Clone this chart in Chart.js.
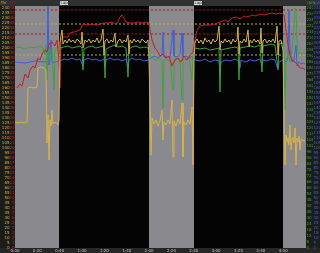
<!DOCTYPE html>
<html><head><meta charset="utf-8">
<style>html,body{margin:0;padding:0;background:#1c1c1c;overflow:hidden}canvas{display:block}</style>
<script src="https://cdn.jsdelivr.net/npm/chart.js@4.4.1/dist/chart.umd.min.js"></script>
</head><body>
<canvas id="c" width="320" height="253"></canvas>
<script>
// ---- data (x = elapsed distance units) ----
const xTickLabels = ["0:00","0:20","0:40","1:00","1:20","1:40","2:00","2:20","2:40","3:00","3:20","3:40","4:00"];
const xTickStep = 22.35;
const shadedRanges = [[0,44],[134,179],[268,291]];
const lapLabels = [["Lap1",45],["Lap2",179]];
const yellowRefs = [224,193];
const redRefs = [47.6,42.8];

const yellowTrace = [[0,126],[3,125],[6,126],[9,125],[12,126],[13,160],[16,161],[19,160],[22,161],[23,180],[26,181],[29,180],[31,178],[32,105],[33,133],[34,88],[35,128],[36,122],[37,138],[38,124],[40,126],[42,125],[43,123],[44,128],
[45,206],[47,218],[48,204],[50,208],[52,205],[54,209],[56,206],[58,208],[60,205],[62,209],[64,207],[66,204],[67,216],[68,200],[70,208],[72,206],[74,209],[76,205],[78,208],[80,206],[82,210],[84,205],[86,208],[88,219],[89,193],[90,207],[92,209],[94,205],[96,208],[98,206],[100,215],[101,201],[103,207],[105,209],[107,205],[109,208],[111,206],[113,213],[114,194],[115,208],[117,205],[119,209],[121,206],[123,208],[125,205],[127,209],[129,207],[131,205],[133,208],[134,188],
[135,148],[136,93],[137,130],[139,124],[141,128],[143,122],[145,127],[147,138],[148,108],[149,126],[151,123],[153,128],[155,124],[157,148],[158,91],[159,127],[161,122],[163,129],[165,124],[167,145],[168,91],[169,126],[171,123],[173,128],[175,124],[177,141],[178,83],[179,188],
[180,206],[182,209],[184,205],[186,208],[188,204],[190,210],[192,206],[194,208],[196,204],[198,209],[200,206],[202,208],[204,222],[205,198],[206,207],[208,205],[210,209],[212,206],[214,208],[216,204],[218,209],[220,206],[222,208],[223,221],[224,194],[225,207],[227,205],[229,209],[231,206],[233,218],[234,201],[235,208],[237,205],[239,209],[241,206],[243,208],[245,204],[246,220],[247,195],[248,207],[250,209],[252,205],[254,208],[256,206],[258,209],[260,205],[262,222],[263,193],[264,207],[266,208],[268,198],
[269,138],[270,83],[271,113],[272,106],[273,110],[274,103],[275,123],[276,98],[277,108],[278,111],[279,105],[280,120],[281,83],[282,110],[283,106],[284,112],[285,98],[286,108],[287,109],[288,107],[289,108],[290,107]];

const redTrace = [[2,32],[5,32.8],[7,32.4],[10,34.8],[13,34],[15,35.6],[18,36.4],[20,36],[23,38],[25,37.6],[27,38.8],[30,39.6],[32,39.2],[34,40.8],[37,41.2],[40,40.4],[42,41.6],[44,37.6],[45,32],[46,41.6],
[48,42.2],[53,42.2],[55,43],[59,43.2],[62,43.4],[65,43.6],[67,44.4],[69,44.8],[73,44.6],[77,44.8],[81,44.6],[85,44.8],[89,45],[93,45],[97,45.2],[101,44.8],[103,45.2],[105,46.2],[107,46.6],[109,46],[111,45.2],[115,45],[119,45],[123,45.2],[127,45],[131,45.2],[134,45],
[135,43.6],[137,41.6],[140,40],[143,39.2],[145,38.4],[148,38.8],[151,38],[154,38.4],[157,36.4],[160,37.6],[163,38],[166,37.2],[169,38.4],[172,37.6],[175,38.6],[178,39.2],[180,41.6],[182,43.6],[185,44.4],[190,44.6],[195,44.6],
[200,44.8],[205,45.2],[210,45.6],[213,45.2],[217,46],[221,46.2],[225,45.8],[229,46.4],[233,46.2],[237,46.6],[241,46.4],[245,46.8],[249,46.6],[253,46.8],[257,47],[261,46.8],[265,47],[268,46.8],
[269,46.6],[271,43.6],[273,40.6],[275,38.6],[277,37.6],[280,37.2],[283,36.6],[285,36],[288,36],[290,35.6]];

const greenTrace = [[0,200],[5,201],[10,199],[15,201],[20,200],[25,202],[28,200],[30,193],[31,203],[32,168],[33,198],[35,188],[37,200],[39,158],[40,198],[42,201],[44,200],
[45,200],[49,201],[53,202],[57,200],[61,201],[65,202],[67,200],[68,178],[69,199],[73,201],[77,202],[81,200],[85,201],[89,202],[90,170],[91,199],[95,201],[99,203],[103,201],[107,202],[111,200],[113,171],[114,199],[117,201],[121,202],[125,200],[129,201],[133,200],
[134,200],[135,192],[138,190],[141,188],[144,190],[147,187],[148,140],[149,188],[152,189],[155,186],[158,158],[159,188],[162,190],[165,187],[167,148],[168,189],[171,188],[174,190],[177,168],[178,193],[180,200],
[185,199],[190,200],[195,198],[200,199],[204,200],[205,156],[206,198],[210,199],[215,200],[220,201],[223,200],[224,168],[225,200],[230,201],[235,202],[240,201],[245,203],[247,176],[248,202],[252,203],[256,204],[260,203],[263,180],[264,204],[268,205],
[269,203],[270,138],[271,188],[273,193],[275,186],[277,198],[279,218],[280,240],[281,236],[282,208],[283,193],[285,196],[287,194],[289,195],[290,194]];

const blueTrace = [[0,186],[10,185],[20,187],[30,186],[32,188],[33,242],[34,183],[36,208],[37,185],[40,186],[44,187],
[45,187],[49,189],[53,188],[57,190],[61,188],[65,189],[68,182],[69,188],[73,190],[77,188],[81,189],[85,187],[89,189],[90,181],[91,188],[95,190],[99,188],[103,189],[107,187],[111,189],[113,180],[114,188],[117,190],[121,188],[125,189],[129,187],[133,188],
[137,191],[140,192],[143,190],[147,193],[148,216],[149,191],[152,192],[155,190],[158,218],[159,192],[162,191],[165,193],[167,215],[168,191],[171,192],[174,190],[177,192],[179,188],
[180,188],[185,187],[190,189],[195,186],[200,188],[204,187],[205,178],[206,186],[210,188],[215,187],[220,189],[224,187],[225,180],[226,188],[230,186],[235,188],[240,187],[245,189],[247,182],[248,188],[252,187],[256,189],[260,188],[263,178],[264,186],[268,188],
[269,188],[271,186],[273,190],[274,238],[275,198],[277,186],[279,188],[281,203],[282,182],[284,186],[286,184],[288,185],[290,184]];

// ---- styling ----
const C = {yellow:'#d6b24c', red:'#cc1c1c', green:'#3ea23e', blue:'#3f5fd8'};
const toXY = a => a.map(p => ({x:p[0], y:p[1]}));
const hline = (v) => [{x:0,y:v},{x:291,y:v}];
const FONT = {family:'DejaVu Sans', size:4};

const bgPlugin = {
  id:'bg',
  beforeDraw(chart){
    const {ctx, chartArea:a, scales} = chart;
    const x = scales.x;
    ctx.save();
    ctx.fillStyle='#1b1d1b'; ctx.fillRect(0,0,chart.width,chart.height);
    ctx.fillStyle='#303030'; ctx.fillRect(0,0,chart.width,a.top);
    ctx.fillStyle='#262626'; ctx.fillRect(0,a.bottom,chart.width,chart.height-a.bottom);
    ctx.fillStyle='#040404'; ctx.fillRect(a.left,a.top,a.right-a.left,a.bottom-a.top);
    ctx.fillStyle='#8a8a8e';
    shadedRanges.forEach(([s,e])=>{
      const x0=x.getPixelForValue(s), x1=x.getPixelForValue(e);
      ctx.fillRect(x0,a.top,x1-x0,a.bottom-a.top);
    });
    ctx.restore();
  },
  afterDraw(chart){
    const {ctx, chartArea:a, scales} = chart;
    const x = scales.x;
    ctx.save();
    ctx.font = '4px "DejaVu Sans"';
    ctx.textBaseline='middle';
    lapLabels.forEach(([t,v])=>{
      const px = x.getPixelForValue(v);
      ctx.fillStyle='#d8d8d8'; ctx.fillRect(px,1,8,4);
      ctx.fillStyle='#222'; ctx.fillText(t,px+0.5,3);
    });
    ctx.fillStyle=C.yellow; ctx.fillText('thr',1,3);
    ctx.fillStyle=C.red; ctx.fillText('°C',10,3);
    ctx.fillStyle=C.green; ctx.fillText('rpm',307,3);
    ctx.fillStyle=C.blue; ctx.fillText('kph',313,3);
    ctx.restore();
  }
};

const yAxis = (pos, weight, width, color, step) => ({
  position: pos, weight: weight, min: 0,
  grid:{display:false, drawTicks:false}, border:{display:false},
  ticks:{color:color, font:FONT, stepSize:step, autoSkip:false, includeBounds:false, padding:0.5},
  afterFit(s){ s.width = width; }
});

const line = (data, color, axis, extra) => Object.assign({
  data: data, borderColor: color, borderWidth: 1, pointRadius: 0, tension: 0,
  yAxisID: axis, fill:false
}, extra||{});

new Chart(document.getElementById('c'), {
  type:'line',
  data:{datasets:[
    line(toXY(yellowTrace), C.yellow, 'yY'),
    line(toXY(redTrace), C.red, 'yR'),
    line(toXY(greenTrace), C.green, 'yG'),
    line(toXY(blueTrace), C.blue, 'yB'),
    ...yellowRefs.map(v => line(hline(v), '#c8a840', 'yY', {borderDash:[2,2]})),
    ...redRefs.map(v => line(hline(v), '#b01414', 'yR', {borderDash:[2,2]}))
  ]},
  options:{
    responsive:false, animation:false, devicePixelRatio:1,
    layout:{padding:{top:6,left:0,right:0,bottom:0}},
    plugins:{legend:{display:false}, tooltip:{enabled:false}},
    scales:{
      x:{type:'linear', min:0, max:291,
        grid:{display:false, drawTicks:false}, border:{display:false},
        ticks:{color:'#c8c8c8', font:FONT, padding:0.5, autoSkip:false, maxRotation:0,
          callback:(v,i)=>xTickLabels[i]},
        afterBuildTicks(s){ s.ticks = xTickLabels.map((_,i)=>({value:i*xTickStep})); },
        afterFit(s){ s.height = 5; }
      },
      yY: Object.assign(yAxis('left',2,10,C.yellow,5),{max:242}),
      yR: Object.assign(yAxis('left',1,5,C.red,1),{max:48.4}),
      yG: Object.assign(yAxis('right',1,7,C.green,6),{max:242}),
      yB: Object.assign(yAxis('right',2,7,C.blue,5),{max:242})
    }
  },
  plugins:[bgPlugin]
});
</script>
</body></html>
